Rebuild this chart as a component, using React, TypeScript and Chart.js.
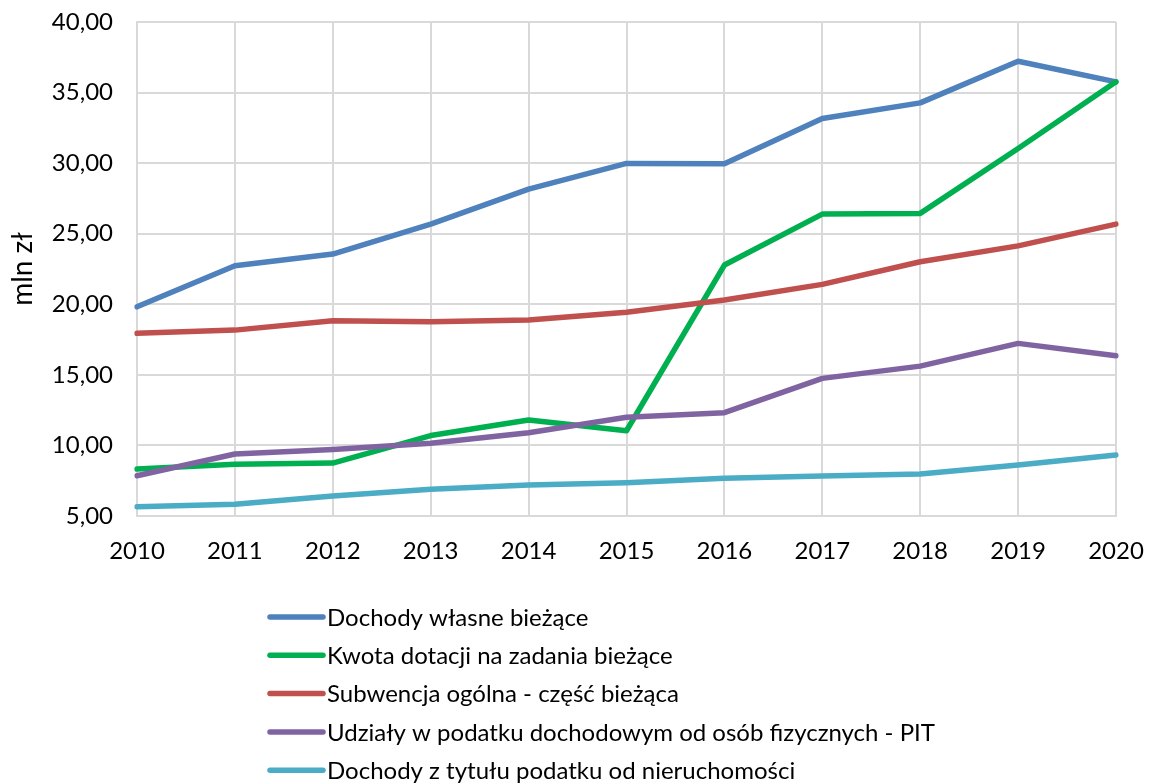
import React, { useEffect, useRef } from "react";
import { Chart, registerables } from "chart.js";

Chart.register(...registerables);

const years = ["2010", "2011", "2012", "2013", "2014", "2015", "2016", "2017", "2018", "2019", "2020"];

const dochodyWlasne = [19.82, 22.73, 23.56, 25.68, 28.16, 29.98, 29.95, 33.16, 34.27, 37.22, 35.76];
const kwotaDotacji = [8.33, 8.66, 8.75, 10.7, 11.8, 11.04, 22.78, 26.39, 26.44, 31.04, 35.76];
const subwencja = [17.94, 18.17, 18.83, 18.76, 18.88, 19.43, 20.3, 21.41, 23.01, 24.14, 25.68];
const udzialyPit = [7.85, 9.39, 9.72, 10.15, 10.9, 11.99, 12.32, 14.75, 15.62, 17.23, 16.35];
const podatekNieruch = [5.66, 5.83, 6.42, 6.89, 7.2, 7.36, 7.67, 7.83, 7.97, 8.61, 9.32];

const seriesLabels = [
  "Dochody własne bieżące",
  "Kwota dotacji na zadania bieżące",
  "Subwencja ogólna - część bieżąca",
  "Udziały w podatku dochodowym od osób fizycznych - PIT",
  "Dochody z tytułu podatku od nieruchomości",
];
const seriesColors = ["#4F81BD", "#00B050", "#C0504D", "#8064A2", "#4BACC6"];
const seriesValues = [dochodyWlasne, kwotaDotacji, subwencja, udzialyPit, podatekNieruch];

const yMin = 5;
const yMax = 40;
const yStep = 5;
const yTitle = "mln zł";

const FONT = "Lato, 'Noto Sans', sans-serif";

const verticalLegend = {
  id: "verticalLegend",
  afterDraw(chart: any) {
    const ctx = chart.ctx;
    ctx.save();
    ctx.font = `24px ${FONT}`;
    ctx.textBaseline = "middle";
    ctx.textAlign = "left";
    chart.data.datasets.forEach((ds: any, i: number) => {
      const y = 617 + i * 38.3;
      ctx.strokeStyle = ds.borderColor;
      ctx.lineWidth = 5.5;
      ctx.lineCap = "round";
      ctx.beginPath();
      ctx.moveTo(270, y);
      ctx.lineTo(323, y);
      ctx.stroke();
      ctx.fillStyle = "#000";
      ctx.fillText(ds.label, 327, y + 1);
    });
    ctx.restore();
  },
};

export default function App() {
  const ref = useRef<HTMLCanvasElement>(null);
  useEffect(() => {
    if (!ref.current) return;
    const chart = new Chart(ref.current, {
      type: "line",
      data: {
        labels: years,
        datasets: seriesValues.map((vals, i) => ({
          label: seriesLabels[i],
          data: vals,
          borderColor: seriesColors[i],
          backgroundColor: seriesColors[i],
          borderWidth: 5.5,
          pointRadius: 0,
          tension: 0,
          borderJoinStyle: "round" as const,
          borderCapStyle: "round" as const,
          order: 10 - i,
        })),
      },
      options: {
        responsive: false,
        animation: false,
        layout: { padding: { left: 0, right: 34, top: 22, bottom: 217 } },
        plugins: {
          legend: { display: false },
          tooltip: { enabled: false },
        },
        scales: {
          x: {
            type: "category",
            offset: false,
            grid: { color: "#D9D9D9", lineWidth: 2, drawTicks: false },
            border: { color: "#D9D9D9", width: 2 },
            ticks: { color: "#000", font: { family: FONT, size: 24 }, padding: 21, maxRotation: 0 },
            afterFit: (scale: any) => {
              scale.height = 50;
              scale.paddingLeft = 0;
              scale.paddingRight = 0;
            },
          },
          y: {
            min: yMin,
            max: yMax,
            grid: { color: "#D9D9D9", lineWidth: 2, drawTicks: false },
            border: { color: "#D9D9D9", width: 2 },
            ticks: {
              stepSize: yStep,
              color: "#000",
              font: { family: FONT, size: 24 },
              padding: 24,
              callback: (v: any) => Number(v).toFixed(2).replace(".", ","),
            },
            title: {
              display: true,
              text: yTitle,
              color: "#000",
              font: { family: FONT, size: 28 },
              padding: { top: 6, bottom: 0 },
            },
            afterFit: (scale: any) => {
              scale.width = 137;
              scale.paddingTop = 0;
              scale.paddingBottom = 0;
            },
          },
        },
      },
      plugins: [verticalLegend],
    });
    return () => chart.destroy();
  }, []);
  return (
    <div style={{ position: "absolute", left: 0, top: 0, width: 1150, height: 783, background: "#fff" }}>
      <canvas ref={ref} width={1150} height={783} />
    </div>
  );
}
